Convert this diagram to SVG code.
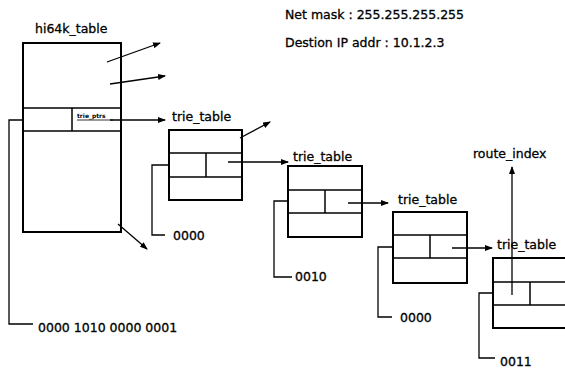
<svg xmlns="http://www.w3.org/2000/svg" width="565" height="370" viewBox="0 0 565 370">
<defs>
<marker id="ah" markerWidth="8" markerHeight="6" refX="7" refY="3" orient="auto" markerUnits="userSpaceOnUse">
<path d="M0,0 L8,3 L0,6 Z" fill="#000"/>
</marker>
<style>
.t{font-family:"DejaVu Sans",Verdana,sans-serif;font-size:12.5px;fill:#000;stroke:#000;stroke-width:0.3}
.s{font-family:"DejaVu Sans",Verdana,sans-serif;font-size:6px;fill:#000;font-weight:bold}
.box{fill:#fff;stroke:#000;stroke-width:2}
.in{stroke:#000;stroke-width:1.5;fill:none}
.c{stroke:#000;stroke-width:1.3;fill:none}
.a{stroke:#000;stroke-width:1.3;fill:none;marker-end:url(#ah)}
</style>
</defs>
<rect width="565" height="370" fill="#fff"/>
<g id="header">
<text class="t" x="285" y="19">Net mask : 255.255.255.255</text>
<text class="t" x="285" y="47">Destion IP addr : 10.1.2.3</text>
</g>
<g id="hi64k_table">
<text class="t" x="35" y="33">hi64k_table</text>
<rect class="box" x="23" y="43" width="98" height="189"/>
<line class="in" x1="23" y1="108" x2="121" y2="108"/>
<line class="in" x1="23" y1="131" x2="121" y2="131"/>
<line class="in" x1="72" y1="108" x2="72" y2="131"/>
<text class="s" x="77" y="118">trie_ptrs</text>
<line x1="77" y1="120" x2="113" y2="120" stroke="#000" stroke-width="0.8"/>
</g>
<g id="trie_table_1">
<text class="t" x="172" y="121">trie_table</text>
<rect class="box" x="169" y="130" width="73" height="70"/>
<line class="in" x1="169" y1="153" x2="242" y2="153"/>
<line class="in" x1="169" y1="177" x2="242" y2="177"/>
<line class="in" x1="206" y1="153" x2="206" y2="177"/>
</g>
<g id="trie_table_2">
<text class="t" x="293" y="161">trie_table</text>
<rect class="box" x="288" y="166" width="74" height="71"/>
<line class="in" x1="288" y1="190" x2="362" y2="190"/>
<line class="in" x1="288" y1="213" x2="362" y2="213"/>
<line class="in" x1="325" y1="190" x2="325" y2="213"/>
</g>
<g id="trie_table_3">
<text class="t" x="398" y="204">trie_table</text>
<rect class="box" x="393" y="212" width="74" height="71"/>
<line class="in" x1="393" y1="235" x2="467" y2="235"/>
<line class="in" x1="393" y1="258" x2="467" y2="258"/>
<line class="in" x1="430" y1="235" x2="430" y2="258"/>
</g>
<g id="trie_table_4">
<text class="t" x="497" y="249">trie_table</text>
<rect class="box" x="493" y="258" width="80" height="70"/>
<line class="in" x1="493" y1="282" x2="573" y2="282"/>
<line class="in" x1="493" y1="305" x2="573" y2="305"/>
<line class="in" x1="530" y1="282" x2="530" y2="305"/>
</g>
<g id="route_index">
<text class="t" x="473" y="158">route_index</text>
</g>
<g id="connectors">
<line class="a" x1="107" y1="62" x2="160" y2="43"/>
<line class="a" x1="110" y1="84" x2="165" y2="76"/>
<line class="a" x1="110" y1="120" x2="165" y2="120"/>
<line class="a" x1="118" y1="224" x2="147" y2="249"/>
<polyline class="c" points="23,120 9,120 9,324 33,324"/>
<line class="a" x1="240" y1="138" x2="270" y2="122"/>
<line class="a" x1="228" y1="162" x2="288" y2="162"/>
<polyline class="c" points="169,165 152,165 152,235 165,235"/>
<line class="a" x1="348" y1="203" x2="388" y2="203"/>
<polyline class="c" points="288,201 274,201 274,277 292,277"/>
<line class="a" x1="452" y1="248" x2="492" y2="248"/>
<polyline class="c" points="393,247 378,247 378,317 392,317"/>
<line class="a" x1="512" y1="295" x2="512" y2="167"/>
<polyline class="c" points="493,293 479,293 479,358 495,358"/>
</g>
<g id="labels">
<text class="t" x="38" y="332">0000 1010 0000 0001</text>
<text class="t" x="173" y="240">0000</text>
<text class="t" x="295" y="281">0010</text>
<text class="t" x="400" y="322">0000</text>
<text class="t" x="500" y="366">0011</text>
</g>
</svg>
